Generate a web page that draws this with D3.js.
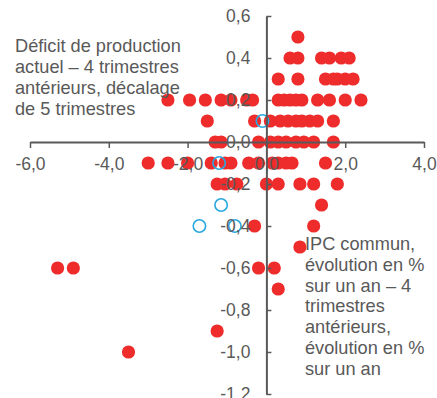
<!DOCTYPE html>
<html>
<head>
<meta charset="utf-8">
<script src="https://cdn.jsdelivr.net/npm/d3@7"></script>
<style>
  html, body { margin: 0; padding: 0; background: #fff; }
  svg { display: block; font-family: "Liberation Sans", Arial, sans-serif; }
</style>
</head>
<body>
<svg id="chart" width="437" height="398"></svg>
<script>
// Output gap change (x) vs. core CPI change (y), quarterly observations
const redX = [
  0.8,
  0.6, 0.8, 1.4, 1.6, 1.9, 2.1,
  0.3, 0.8, 1.5, 1.7, 1.8, 2.0, 2.2,
  -2.5, -1.95, -1.55, -1.15, -0.9, -0.5, -0.35, 0.3, 0.45, 0.6, 0.75, 0.9, 1.3, 1.6, 2.0, 2.4,
  -1.5, -0.3, 0.1, 0.35, 0.55, 0.75, 0.9, 1.1, 1.3, 1.7,
  -1.3, -1.15, -0.2, 0.1, 0.3, 0.5, 0.75, 0.95, 1.2, 1.7,
  -3.0, -2.5, -2.0, -1.4, -1.05, -0.9, -0.45, -0.2, 0.15, 0.3, 0.5, 0.65, 1.5,
  -1.25, -1.05, -0.75, 0.0, 0.3, 0.85, 1.2, 1.8,
  1.4,
  -0.3, 1.2,
  0.85,
  -5.3, -4.9, -0.2, 0.2,
  0.3,
  -1.25,
  -3.5
];
const redY = [
  0.5,
  0.4, 0.4, 0.4, 0.4, 0.4, 0.4,
  0.3, 0.3, 0.3, 0.3, 0.3, 0.3, 0.3,
  0.2, 0.2, 0.2, 0.2, 0.2, 0.2, 0.2, 0.2, 0.2, 0.2, 0.2, 0.2, 0.2, 0.2, 0.2, 0.2,
  0.1, 0.1, 0.1, 0.1, 0.1, 0.1, 0.1, 0.1, 0.1, 0.1,
  0.0, 0.0, 0.0, 0.0, 0.0, 0.0, 0.0, 0.0, 0.0, 0.0,
  -0.1, -0.1, -0.1, -0.1, -0.1, -0.1, -0.1, -0.1, -0.1, -0.1, -0.1, -0.1, -0.1,
  -0.2, -0.2, -0.2, -0.2, -0.2, -0.2, -0.2, -0.2,
  -0.3,
  -0.4, -0.4,
  -0.5,
  -0.6, -0.6, -0.6, -0.6,
  -0.7,
  -0.9,
  -1.0
];
// Most recent quarters, drawn as open circles
const blueX = [-0.1, -1.2, -1.15, -1.7, -0.8];
const blueY = [0.1, -0.1, -0.3, -0.4, -0.4];

const xTicks = [-6, -4, -2, 0, 2, 4];
const yTicks = [0.6, 0.4, 0.2, 0.0, -0.2, -0.4, -0.6, -0.8, -1.0, -1.2];

const xTitle = ["Déficit de production", "actuel – 4 trimestres", "antérieurs, décalage", "de 5 trimestres"];
const yTitle = ["IPC commun,", "évolution en %", "sur un an – 4", "trimestres", "antérieurs,", "évolution en %", "sur un an"];

const textColor = "#595959";
const redColor = "#EE2C2C";
const blueColor = "#29A8E0";

const svg = d3.select("#chart");

const x = d3.scaleLinear().domain([-6, 4]).range([30, 424]);
const y = d3.scaleLinear().domain([-1.2, 0.6]).range([394, 16]);

const fmt = d => d3.format(".1f")(d).replace(".", ",").replace("−", "-");

// filled points
svg.append("g")
  .selectAll("circle")
  .data(d3.range(redX.length))
  .join("circle")
  .attr("cx", i => x(redX[i]))
  .attr("cy", i => y(redY[i]))
  .attr("r", 6.6)
  .attr("fill", redColor);

// open points
svg.append("g")
  .selectAll("circle")
  .data(d3.range(blueX.length))
  .join("circle")
  .attr("cx", i => x(blueX[i]))
  .attr("cy", i => y(blueY[i]))
  .attr("r", 6.2)
  .attr("fill", "none")
  .attr("stroke", blueColor)
  .attr("stroke-width", 1.6);

// x axis through y = 0
const gx = svg.append("g")
  .attr("transform", `translate(0,${y(0)})`)
  .call(d3.axisBottom(x).tickValues(xTicks).tickFormat(fmt)
    .tickSize(6).tickSizeOuter(0).tickPadding(10));

// y axis through x = 0, ticks pointing right, labels on the left
const gy = svg.append("g")
  .attr("transform", `translate(${x(0)},0)`)
  .call(d3.axisLeft(y).tickValues(yTicks).tickFormat(fmt)
    .tickSize(-5).tickSizeOuter(0).tickPadding(16));

[gx, gy].forEach(g => {
  g.select(".domain").attr("stroke", textColor).attr("stroke-width", 2);
  g.selectAll(".tick line").attr("stroke", textColor).attr("stroke-width", 1.5);
  g.selectAll(".tick text")
    .attr("fill", textColor)
    .style("font-size", "17.5px")
    .style("font-family", "'Liberation Sans', Arial, sans-serif");
});

// axis titles
svg.append("text")
  .attr("x", 15).attr("y", 52)
  .attr("fill", textColor).style("font-size", "18.2px")
  .selectAll("tspan").data(xTitle).join("tspan")
  .attr("x", 15).attr("dy", (d, i) => i === 0 ? 0 : 21)
  .text(d => d);

svg.append("text")
  .attr("x", 305).attr("y", 250)
  .attr("fill", textColor).style("font-size", "18.2px")
  .selectAll("tspan").data(yTitle).join("tspan")
  .attr("x", 305).attr("dy", (d, i) => i === 0 ? 0 : 20.8)
  .text(d => d);
</script>
</body>
</html>
